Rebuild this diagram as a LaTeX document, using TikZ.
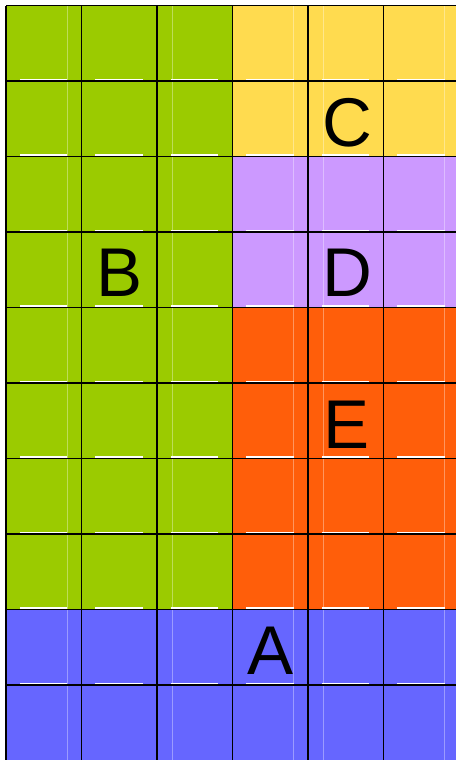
\documentclass[tikz,border=0pt]{standalone}
\usepackage{fontspec}
\setmainfont{Liberation Sans}
\usepackage{tikz}

\definecolor{zoneA}{HTML}{6666FF}
\definecolor{zoneB}{HTML}{9BCB00}
\definecolor{zoneC}{HTML}{FFDB4F}
\definecolor{zoneD}{HTML}{CC99FF}
\definecolor{zoneE}{HTML}{FF5E0A}

\begin{document}
\begin{tikzpicture}[y=-1cm,
  gridline/.style={black,line width=0.65pt},
  glare/.style={white,line width=0.4pt},
  zonelabel/.style={font=\fontsize{26}{28}\selectfont,inner sep=0pt}]
\useasboundingbox (-0.0795,-0.073) rectangle (5.96,9.993);
\clip (-0.0795,-0.073) rectangle (5.96,9.993);
\fill[zoneB] (0,0) rectangle (3,8);
\fill[zoneC] (3,0) rectangle (6,2);
\fill[zoneD] (3,2) rectangle (6,4);
\fill[zoneE] (3,4) rectangle (6,8);
\fill[zoneA] (0,8) rectangle (6,10);
% faint streaks
\foreach \x in {0.81,2.2,3.81,4.2,5.81}
  \draw[white,opacity=0.35,line width=0.35pt] (\x,0) -- (\x,10);
\foreach \r in {1,...,9}
  \foreach \c in {0,...,5}
    \draw[glare] (\c+0.185,\r-0.02) -- (\c+0.81,\r-0.02);
\draw[gridline] (0,0) grid (6,10);
\node[zonelabel] (labA) at (3.5,8.55) {A};
\node[zonelabel] (labB) at (1.5,3.54) {B};
\node[zonelabel] (labC) at (4.52,1.55) {C};
\node[zonelabel] (labD) at (4.52,3.54) {D};
\node[zonelabel] (labE) at (4.51,5.55) {E};
\end{tikzpicture}
\end{document}
